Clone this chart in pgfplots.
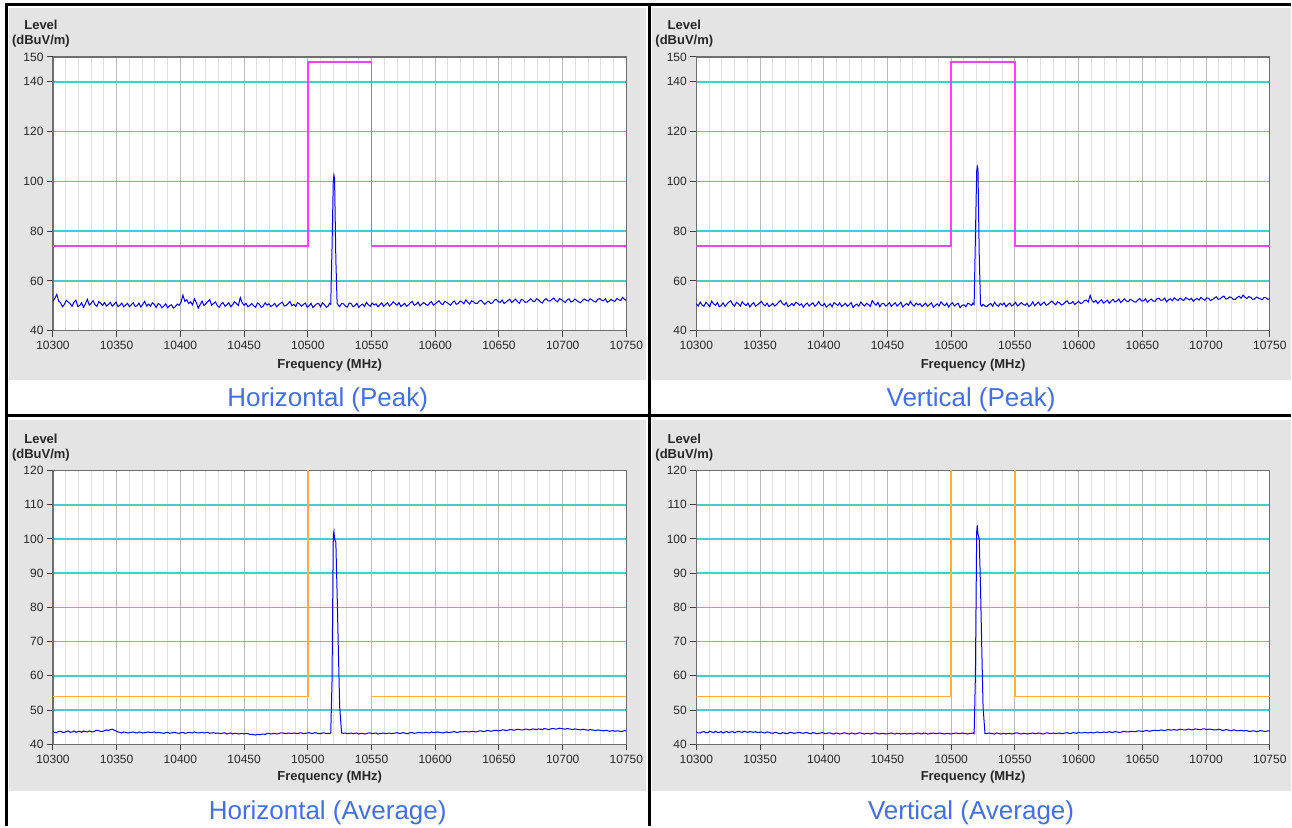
\documentclass[border=0pt]{standalone}
\usepackage{pgfplots}
\usepackage{pgfplotstable}
\pgfplotsset{compat=1.18}
\usepackage{fontspec}
\setmainfont{Liberation Sans}
\definecolor{bggray}{RGB}{228,228,228}
\definecolor{majgray}{RGB}{185,185,185}
\definecolor{mingray}{RGB}{225,225,225}
\definecolor{gridcyan}{RGB}{64,206,206}
\definecolor{axgray}{RGB}{110,110,110}
\definecolor{limmag}{RGB}{255,60,255}
\definecolor{limorange}{RGB}{255,175,60}
\definecolor{trace}{RGB}{0,0,255}
\definecolor{captionblue}{RGB}{66,112,235}

\pgfplotstableread{
x hp vp ha va
10300 51.8 50.9 43.7 43.6
10301.5 53.0 49.9 43.4 43.3
10303 54.6 51.5 43.4 43.3
10304.5 51.9 50.3 43.8 43.6
10306 51.2 49.8 43.8 43.7
10307.5 49.6 51.4 43.5 43.4
10309 50.6 50.6 43.5 43.4
10310.5 52.2 49.7 43.7 43.8
10312 51.5 51.9 43.9 43.6
10313.5 50.9 50.8 43.5 43.4
10315 49.8 50.2 43.6 43.8
10316.5 51.4 51.3 43.9 43.5
10318 52.3 49.6 43.5 43.5
10319.5 49.7 50.1 43.7 43.7
10321 50.1 51.2 43.8 43.3
10322.5 51.2 49.7 43.5 43.6
10324 49.4 50.7 43.9 43.7
10325.5 50.8 51.5 43.7 43.4
10327 52.6 52.0 43.6 43.6
10328.5 50.3 50.6 43.9 43.7
10330 51.0 49.9 43.7 43.4
10331.5 52.1 51.4 43.6 43.6
10333 50.4 50.8 43.9 43.8
10334.5 49.8 49.9 44.1 43.6
10336 51.7 51.6 44.0 43.5
10337.5 51.0 50.7 43.7 43.8
10339 50.2 50.1 43.8 43.6
10340.5 51.3 51.1 44.0 43.5
10342 49.9 49.5 44.2 43.7
10343.5 50.5 50.6 44.0 43.6
10345 51.4 51.3 44.3 43.5
10346.5 49.8 49.8 44.4 43.7
10348 50.6 50.4 44.1 43.4
10349.5 51.5 51.0 43.9 43.5
10351 49.7 51.8 43.6 43.6
10352.5 50.2 50.6 43.5 43.4
10354 51.1 50.0 43.3 43.3
10355.5 49.6 51.1 43.6 43.6
10357 50.3 49.7 43.5 43.5
10358.5 51.0 50.2 43.3 43.3
10360 49.6 51.0 43.4 43.2
10361.5 50.4 49.9 43.5 43.5
10363 51.3 50.5 43.6 43.4
10364.5 49.7 51.4 43.4 43.2
10366 50.0 52.2 43.3 43.1
10367.5 51.1 50.9 43.6 43.4
10369 49.5 50.3 43.5 43.3
10370.5 50.6 51.3 43.3 43.1
10372 51.8 49.6 43.4 43.2
10373.5 49.9 50.2 43.5 43.5
10375 50.7 50.9 43.6 43.4
10376.5 49.8 50.0 43.4 43.2
10378 51.2 51.4 43.5 43.3
10379.5 50.6 51.0 43.6 43.4
10381 49.3 50.2 43.3 43.5
10382.5 50.9 50.8 43.5 43.3
10384 50.5 49.4 43.4 43.2
10385.5 49.2 50.5 43.3 43.4
10387 49.9 51.1 43.2 43.4
10388.5 50.8 49.9 43.4 43.2
10390 49.2 50.6 43.5 43.1
10391.5 50.0 51.2 43.2 43.4
10393 50.4 49.8 43.3 43.3
10394.5 49.1 50.5 43.5 43.1
10396 49.6 51.7 43.4 43.2
10397.5 50.7 50.4 43.3 43.3
10399 50.2 50.0 43.2 43.4
10400.5 51.4 50.9 43.4 43.2
10402 54.3 49.5 43.5 43.1
10403.5 51.8 50.1 43.2 43.3
10405 52.4 50.8 43.3 43.3
10406.5 50.9 49.6 43.5 43.1
10408 51.6 51.3 43.4 43.0
10409.5 50.4 50.7 43.3 43.3
10411 52.8 50.1 43.6 43.2
10412.5 51.3 51.2 43.4 43.0
10414 49.0 49.7 43.3 43.1
10415.5 50.5 50.3 43.4 43.3
10417 51.9 51.0 43.5 43.3
10418.5 50.1 49.8 43.3 43.1
10420 50.8 50.4 43.4 43.0
10421.5 51.7 51.3 43.5 43.3
10423 52.5 49.3 43.2 43.2
10424.5 50.3 50.2 43.3 43.0
10426 50.9 50.7 43.4 43.1
10427.5 51.6 49.8 43.2 43.3
10429 50.0 51.5 43.3 43.3
10430.5 49.4 50.6 43.2 43.1
10432 50.7 49.9 43.1 43.0
10433.5 51.3 51.0 43.3 43.2
10435 49.8 50.5 43.3 43.2
10436.5 50.4 49.7 43.0 43.0
10438 51.2 52.1 43.2 43.1
10439.5 49.6 51.0 43.3 43.3
10441 50.5 50.2 43.0 43.3
10442.5 51.6 51.4 43.2 43.1
10444 50.9 49.6 43.2 43.0
10445.5 50.1 50.8 43.0 43.2
10447 53.3 51.0 43.1 43.2
10448.5 51.2 49.9 43.2 43.0
10450 50.2 50.4 43.0 43.1
10451.5 51.0 51.3 43.2 43.2
10453 49.6 49.8 43.1 43.3
10454.5 50.2 50.5 42.9 43.1
10456 50.9 51.2 42.9 43.0
10457.5 50.0 49.9 42.8 43.2
10459 49.4 50.6 42.7 43.2
10460.5 51.1 51.4 42.9 43.0
10462 50.6 49.5 42.8 43.1
10463.5 49.3 50.3 42.9 43.2
10465 49.9 50.9 43.0 43.0
10466.5 51.2 50.2 42.9 43.1
10468 50.3 51.8 43.1 43.2
10469.5 50.8 50.5 43.2 43.0
10471 49.7 49.9 43.0 43.1
10472.5 50.2 51.1 43.1 43.2
10474 51.0 50.3 43.2 43.3
10475.5 49.6 50.9 43.0 43.1
10477 50.4 49.7 43.1 43.0
10478.5 51.0 50.4 43.3 43.3
10480 51.5 51.1 43.3 43.2
10481.5 49.9 49.8 43.2 43.0
10483 50.1 50.5 43.1 43.1
10484.5 50.9 51.2 43.3 43.2
10486 51.8 49.4 43.2 43.3
10487.5 50.0 50.1 43.1 43.1
10489 50.6 50.8 43.3 43.1
10490.5 49.7 49.9 43.2 43.3
10492 51.3 51.6 43.1 43.2
10493.5 50.7 50.7 43.3 43.1
10495 49.8 50.0 43.3 43.0
10496.5 50.5 51.1 43.1 43.2
10498 51.1 49.5 43.2 43.2
10499.5 49.5 50.6 43.3 43.0
10501 50.0 51.2 43.4 43.1
10502.5 51.0 49.9 43.2 43.2
10504 49.3 50.6 43.2 43.3
10505.5 50.1 51.0 43.4 43.1
10507 50.8 49.2 43.3 43.1
10508.5 50.9 50.1 43.1 43.3
10510 49.6 50.4 43.1 43.2
10511.5 51.2 49.6 43.3 43.1
10513 50.5 51.0 43.3 43.0
10514.5 49.4 50.7 43.1 43.2
10516 49.9 50.1 43.2 43.2
10517 51.0 51.0 43.1 43.3
10518 50.6 50.5 43.3 43.1
10519 73.5 77.5 58.5 60.0
10520 100.5 104.0 101.0 102.0
10520.5 102.5 106.0 102.2 104.0
10521 101.0 105.0 100.0 101.5
10522 68.5 70.5 99.0 100.0
10523 51.0 50.5 84.0 86.0
10524 50.2 49.8 67.0 68.0
10525 49.7 50.6 51.0 51.0
10526.5 50.9 49.9 43.3 43.2
10528 50.8 49.7 43.2 43.1
10529.5 49.9 50.5 43.3 43.3
10531 49.5 50.9 43.1 43.2
10532.5 51.1 49.8 43.2 43.1
10534 50.9 51.4 43.3 43.0
10535.5 49.6 50.4 43.1 43.3
10537 50.1 49.8 43.2 43.2
10538.5 51.0 51.0 43.3 43.0
10540 49.4 50.3 43.0 43.1
10541.5 50.2 51.2 43.2 43.2
10543 50.7 49.6 43.2 43.0
10544.5 49.7 50.5 43.0 43.2
10546 51.4 51.1 43.1 43.2
10547.5 50.4 49.9 43.3 43.0
10549 49.8 50.5 43.3 43.1
10550.5 51.1 51.4 43.1 43.3
10552 50.3 49.9 43.2 43.3
10553.5 50.8 50.5 43.3 43.1
10555 49.6 51.3 43.0 43.0
10556.5 50.4 50.6 43.1 43.2
10558 51.2 50.2 43.2 43.2
10559.5 49.8 51.0 43.3 43.0
10561 50.5 49.7 43.1 43.1
10562.5 51.3 50.3 43.2 43.2
10564 49.9 51.6 43.3 43.3
10565.5 50.6 50.0 43.1 43.1
10567 51.6 50.8 43.2 43.1
10568.5 50.9 51.5 43.3 43.3
10570 50.2 50.1 43.4 43.2
10571.5 51.3 50.9 43.2 43.0
10573 49.7 51.5 43.2 43.1
10574.5 50.3 50.2 43.4 43.3
10576 51.0 50.6 43.3 43.3
10577.5 49.8 51.3 43.1 43.1
10579 50.4 51.9 43.2 43.2
10580.5 51.2 51.0 43.4 43.3
10582 51.8 50.4 43.4 43.1
10583.5 50.2 51.6 43.2 43.2
10585 50.6 51.2 43.3 43.3
10586.5 51.5 50.3 43.4 43.1
10588 49.9 50.7 43.5 43.2
10589.5 50.7 51.5 43.3 43.3
10591 51.3 52.0 43.3 43.4
10592.5 50.6 50.8 43.5 43.2
10594 50.1 51.0 43.4 43.2
10595.5 51.0 51.7 43.3 43.4
10597 51.7 50.5 43.6 43.3
10598.5 50.3 51.2 43.4 43.2
10600 50.8 51.8 43.4 43.5
10601.5 51.4 50.9 43.6 43.3
10603 52.0 51.2 43.5 43.3
10604.5 50.9 52.0 43.4 43.5
10606 50.5 52.3 43.3 43.4
10607.5 51.8 51.5 43.5 43.3
10609 51.4 54.2 43.6 43.5
10610.5 50.8 52.1 43.4 43.4
10612 50.2 51.4 43.5 43.3
10613.5 51.3 52.2 43.6 43.5
10615 51.9 50.9 43.7 43.6
10616.5 50.6 51.8 43.5 43.4
10618 50.9 52.4 43.5 43.4
10619.5 51.9 51.1 43.7 43.6
10621 51.5 51.6 43.6 43.5
10622.5 50.8 52.3 43.7 43.5
10624 52.4 51.0 43.8 43.7
10625.5 51.4 51.9 43.6 43.5
10627 50.7 52.6 43.6 43.5
10628.5 52.0 51.5 43.8 43.7
10630 51.6 51.9 43.8 43.6
10631.5 50.9 52.7 43.6 43.5
10633 51.0 51.3 43.7 43.5
10634.5 51.9 52.0 43.9 43.7
10636 52.2 52.8 43.9 43.8
10637.5 51.3 51.9 43.7 43.6
10639 50.6 51.7 43.8 43.6
10640.5 51.5 52.6 44.0 43.8
10642 51.8 52.2 44.0 43.8
10643.5 50.9 51.6 43.8 43.7
10645 51.2 51.5 43.9 43.7
10646.5 52.3 52.4 44.1 43.9
10648 52.6 52.9 44.1 43.9
10649.5 51.6 51.9 43.9 43.8
10651 51.4 52.0 44.0 43.8
10652.5 52.3 52.8 44.2 44.0
10654 50.9 51.4 44.2 44.0
10655.5 51.5 52.2 44.0 43.8
10657 52.1 52.7 44.1 43.9
10658.5 52.6 51.9 44.3 44.1
10660 51.3 51.8 44.3 44.1
10661.5 52.0 52.9 44.1 44.0
10663 52.7 53.0 44.2 44.0
10664.5 51.7 52.2 44.4 44.2
10666 51.0 52.3 44.3 44.1
10667.5 52.5 53.1 44.2 44.0
10669 52.3 51.6 44.2 44.2
10670.5 51.4 52.4 44.4 44.3
10672 51.5 52.8 44.4 44.1
10673.5 52.2 52.0 44.2 44.2
10675 52.8 53.2 44.3 44.3
10676.5 51.9 52.6 44.5 44.1
10678 51.7 52.1 44.4 44.2
10679.5 52.8 53.1 44.3 44.4
10681 52.4 52.6 44.5 44.3
10682.5 51.6 52.1 44.4 44.2
10684 51.1 53.3 44.3 44.2
10685.5 52.3 52.8 44.6 44.4
10687 52.9 52.4 44.5 44.4
10688.5 52.0 53.0 44.3 44.2
10690 51.9 51.8 44.4 44.3
10691.5 52.5 52.6 44.6 44.5
10693 53.1 52.9 44.6 44.4
10694.5 52.1 52.3 44.4 44.3
10696 51.6 53.4 44.5 44.3
10697.5 52.9 52.7 44.7 44.5
10699 52.5 52.2 44.6 44.5
10700.5 51.9 53.2 44.5 44.3
10702 51.3 53.0 44.4 44.4
10703.5 52.4 52.1 44.6 44.4
10705 52.8 52.5 44.5 44.3
10706.5 51.5 53.1 44.4 44.2
10708 51.8 53.6 44.3 44.2
10709.5 52.7 52.6 44.5 44.4
10711 52.2 52.8 44.4 44.3
10712.5 51.6 53.5 44.3 44.1
10714 51.2 53.9 44.2 44.1
10715.5 52.1 52.7 44.4 44.3
10717 52.7 52.9 44.3 44.2
10718.5 52.2 53.6 44.2 44.0
10720 51.9 53.3 44.1 44.0
10721.5 52.8 52.5 44.3 44.2
10723 52.4 52.6 44.2 44.1
10724.5 51.8 53.4 44.1 43.9
10726 51.5 53.8 44.0 44.0
10727.5 52.6 53.0 44.2 44.1
10729 52.9 54.3 44.1 43.9
10730.5 52.3 53.5 44.0 44.0
10732 52.0 52.9 43.9 44.0
10733.5 52.8 53.7 44.1 43.8
10735 51.4 53.4 44.0 43.8
10736.5 51.9 52.6 43.8 43.9
10738 52.6 52.7 43.9 43.9
10739.5 52.0 53.5 44.0 43.7
10741 51.8 53.1 43.8 43.8
10742.5 52.9 52.8 43.9 44.0
10744 52.5 52.4 43.9 43.9
10745.5 52.1 53.3 43.7 43.8
10747 53.4 53.2 43.8 43.8
10748.5 52.6 52.6 44.0 43.9
10750 52.2 52.8 43.9 43.9
}\data

\pgfplotsset{
  geom/.style={
    scale only axis, width=574pt, height=274pt,
    anchor=south west,
    xmin=10300, xmax=10750,
  },
  panel/.style={
    geom,
    xtick={10300,10350,...,10750},
    scaled x ticks=false, scaled y ticks=false,
    minor x tick num=4,
    xmajorgrids, xminorgrids, ymajorgrids,
    major x grid style={draw=majgray, line width=1pt},
    minor x grid style={draw=mingray, line width=1pt},
    major y grid style={draw=gridcyan, line width=1.6pt},
    axis line style={draw=axgray, line width=1.2pt},
    xtick pos=bottom, ytick pos=left,
    tick align=outside, major tick length=6pt, minor tick length=0pt,
    tick style={draw=black!75, line width=1pt},
    xticklabel style={font=\fontsize{12}{12}\selectfont, text=black!85, yshift=-1pt},
    yticklabel style={font=\fontsize{12}{12}\selectfont, text=black!85},
    /pgf/number format/assume math mode=true,
    /pgf/number format/1000 sep={},
    extra y tick style={grid=none},
    axis background/.style={fill=white},
  },
  over/.style={geom, hide axis, axis background/.style={draw=none, fill=none}},
  peakgrid/.style={panel, ymin=40, ymax=150, ytick={60,80,...,140}, extra y ticks={40,150}},
  avggrid/.style={panel, ymin=40, ymax=120, ytick={50,60,...,110}, extra y ticks={40,120}},
  peakover/.style={over, ymin=40, ymax=150},
  avgover/.style={over, ymin=40, ymax=120},
}

\begin{document}
\begin{tikzpicture}[x=1pt,y=1pt]
\path[fill=white] (0,0) rectangle (1292,827);
% panel backgrounds
\fill[bggray] (9,447) rectangle (647,819);
\fill[bggray] (653,447) rectangle (1292,819);
\fill[bggray] (9,35) rectangle (647,407);
\fill[bggray] (653,35) rectangle (1292,407);
% frame lines
\draw[black, line width=2.5pt] (5.25,822.5) -- (1292,822.5);
\draw[black, line width=2.5pt] (6.5,823.75) -- (6.5,0);
\draw[black, line width=2.5pt] (650,823.75) -- (650,0);
\draw[black, line width=2.5pt] (5.25,411) -- (1292,411);

% Horizontal (Peak)
\begin{axis}[peakgrid, at={(53pt,496pt)}]
\addplot[draw=none] coordinates {(10300,40)};
\end{axis}
\begin{axis}[peakover, at={(53pt,496pt)}]
\addplot[limmag, line width=1.8pt] coordinates {(10300,74)(10500,74)(10500,148)(10550,148)(10550,74)(10750,74)};
\addplot[trace, line width=1pt] table[x=x,y=hp]{\data};
\end{axis}
% Vertical (Peak)
\begin{axis}[peakgrid, at={(697pt,496pt)}]
\addplot[draw=none] coordinates {(10300,40)};
\end{axis}
\begin{axis}[peakover, at={(697pt,496pt)}]
\addplot[limmag, line width=1.8pt] coordinates {(10300,74)(10500,74)(10500,148)(10550,148)(10550,74)(10750,74)};
\addplot[trace, line width=1pt] table[x=x,y=vp]{\data};
\end{axis}
% Horizontal (Average)
\begin{axis}[avggrid, at={(53pt,82pt)}]
\addplot[draw=none] coordinates {(10300,40)};
\end{axis}
\begin{axis}[avgover, at={(53pt,82pt)}]
\addplot[limorange, line width=1.6pt] coordinates {(10300,54)(10500,54)(10500,130)(10550,130)(10550,54)(10750,54)};
\addplot[trace, line width=1pt] table[x=x,y=ha]{\data};
\end{axis}
% Vertical (Average)
\begin{axis}[avggrid, at={(697pt,82pt)}]
\addplot[draw=none] coordinates {(10300,40)};
\end{axis}
\begin{axis}[avgover, at={(697pt,82pt)}]
\addplot[limorange, line width=1.6pt] coordinates {(10300,54)(10500,54)(10500,130)(10550,130)(10550,54)(10750,54)};
\addplot[trace, line width=1pt] table[x=x,y=va]{\data};
\end{axis}

% labels
\tikzset{axlab/.style={font=\fontsize{13}{13}\selectfont\bfseries, text=black!85, inner sep=0pt}}
\foreach \xo in {0,644}{
  \node[axlab] at (41pt+\xo pt,802pt) {Level};
  \node[axlab] at (41pt+\xo pt,786pt) {(dBuV/m)};
  \node[axlab] at (330pt+\xo pt,462pt) {Frequency (MHz)};
  \node[axlab] at (41pt+\xo pt,388pt) {Level};
  \node[axlab] at (41pt+\xo pt,371pt) {(dBuV/m)};
  \node[axlab] at (330pt+\xo pt,49pt) {Frequency (MHz)};
}
\tikzset{captxt/.style={font=\fontsize{26}{26}\selectfont, text=captionblue, inner sep=0pt}}
\node[captxt] at (328pt,427pt) {Horizontal (Peak)};
\node[captxt] at (972pt,427pt) {Vertical (Peak)};
\node[captxt] at (328pt,13pt) {Horizontal (Average)};
\node[captxt] at (972pt,13pt) {Vertical (Average)};
\end{tikzpicture}
\end{document}
